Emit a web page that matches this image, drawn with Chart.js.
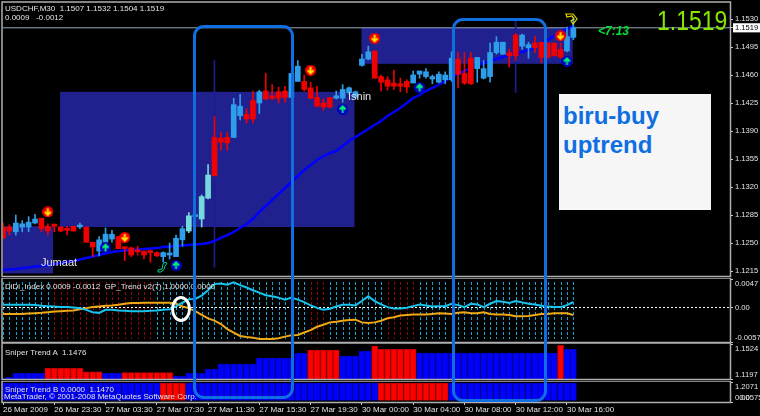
<!DOCTYPE html>
<html>
<head>
<meta charset="utf-8">
<title>USDCHF M30</title>
<script src="https://cdn.jsdelivr.net/npm/chart.js@4"></script>
<style>
  html, body { margin: 0; background: #000; overflow: hidden; }
  #wrap { position: relative; width: 760px; height: 416px; font-family: "Liberation Sans", sans-serif; }
  canvas { position: absolute; left: 0; }
  .txt { position: absolute; color: #e4e4e4; font-size: 8px; line-height: 9px; white-space: pre; }
  .frame { position: absolute; border: 3px solid #0f6fe0; border-radius: 11px; box-sizing: border-box; }
</style>
</head>
<body>
<div id="wrap">
  <canvas id="c-main" width="760" height="278" style="top:0"></canvas>
  <canvas id="c-didi" width="760" height="65" style="top:278px"></canvas>
  <canvas id="c-a" width="760" height="38" style="top:343px"></canvas>
  <canvas id="c-b" width="760" height="35" style="top:381px"></canvas>

  <div class="txt" style="left:5px;top:4px">USDCHF,M30  1.1507 1.1532 1.1504 1.1519</div>
  <div class="txt" style="left:5px;top:13px">0.0009   -0.0012</div>
  <div class="txt" style="left:5px;top:282px">DiDi_Index 0.0009 -0.0012  GP_Trend v2(7) 1.0000 0.0000</div>
  <div class="txt" style="left:5px;top:348px">Sniper Trend A  1.1476</div>
  <div class="txt" style="left:5px;top:385px">Sniper Trend B 0.0000  1.1470</div>
  <div class="txt" style="left:4px;top:392px">MetaTrader, © 2001-2008 MetaQuotes Software Corp.</div>

  <div class="txt" style="left:41px;top:256px;font-size:11px;line-height:12px">Jumaat</div>
  <div class="txt" style="left:348px;top:90px;font-size:11px;line-height:12px">Isnin</div>

  <div class="txt" id="big-price" style="left:657px;top:6px;font-size:28px;line-height:30px;color:#86e800;transform:scaleX(.82);transform-origin:left top">1.1519</div>
  <div class="txt" style="left:598px;top:25px;font-size:12px;line-height:13px;color:#00e030;font-weight:bold;font-style:italic">&lt;7:13</div>

  <div style="position:absolute;left:559px;top:94px;width:152px;height:116px;background:#f6f6f6"></div>
  <div class="txt" style="left:563px;top:101px;font-size:24px;line-height:29px;font-weight:bold;color:#0f6fe0">biru-buy
uptrend</div>

  <div class="frame" style="left:193px;top:25px;width:101px;height:374px"></div>
  <div class="frame" style="left:452px;top:18px;width:95px;height:384px"></div>
  <div style="position:absolute;left:171px;top:296px;width:20px;height:26px;border:3px solid #fff;border-radius:50%;box-sizing:border-box"></div>

  <svg style="position:absolute;left:157px;top:261px" width="12" height="12" viewBox="0 0 12 12" fill="none" stroke="#00d080" stroke-width="1">
    <path d="M1 9 L5 8 L6 3 Q8 0 10 2 L8 5 Q8 9 4 11 L1 11 Z"/>
  </svg>
  <svg style="position:absolute;left:565px;top:12px" width="14" height="14" viewBox="0 0 14 14" fill="none" stroke="#e8d800" stroke-width="1.2">
    <path d="M1 2 L8 2 L12 7 L8 12 L6 9 L9 7 L7 4 L2 5 Z"/>
  </svg>
</div>

<script>
// ── USDCHF M30 prices, one entry per bar ─────────────
const opens = [
  1.1270,1.1270,1.1264,1.1270,1.1270,1.1275,1.1281,1.1271,1.1273,1.1270,
  1.1268,1.1271,1.1270,1.1270,1.1251,1.1240,1.1251,1.1255,1.1258,1.1244,
  1.1244,1.1241,1.1240,1.1239,1.1238,1.1233,1.1235,1.1233,1.1254,1.1265,
  1.1283,1.1280,1.1306,1.1382,1.1381,1.1382,1.1382,1.1409,1.1411,1.1428,
  1.1425,1.1440,1.1434,1.1439,1.1440,1.1432,1.1452,1.1452,1.1444,1.1432,
  1.1425,1.1432,1.1431,1.1431,1.1438,1.1432,1.1472,1.1480,1.1490,1.1458,
  1.1454,1.1450,1.1449,1.1452,1.1450,1.1461,1.1458,1.1455,1.1451,1.1454,
  1.1454,1.1480,1.1462,1.1481,1.1468,1.1456,1.1458,1.1488,1.1486,1.1488,
  1.1510,1.1496,1.1494,1.1500,1.1501,1.1500,1.1500,1.1492,1.1490,1.1507];
const highs = [
  1.1275,1.1273,1.1285,1.1278,1.1283,1.1286,1.1281,1.1274,1.1274,1.1271,
  1.1271,1.1271,1.1275,1.1270,1.1251,1.1258,1.1269,1.1266,1.1258,1.1244,
  1.1245,1.1246,1.1240,1.1241,1.1239,1.1239,1.1250,1.1260,1.1271,1.1288,
  1.1285,1.1310,1.1348,1.1408,1.1388,1.1388,1.1431,1.1436,1.1418,1.1440,
  1.1441,1.1462,1.1448,1.1445,1.1446,1.1462,1.1478,1.1460,1.1451,1.1446,
  1.1430,1.1432,1.1440,1.1448,1.1445,1.1440,1.1486,1.1496,1.1490,1.1460,
  1.1458,1.1466,1.1456,1.1454,1.1465,1.1465,1.1468,1.1460,1.1464,1.1464,
  1.1489,1.1489,1.1488,1.1488,1.1482,1.1478,1.1500,1.1508,1.1501,1.1492,
  1.1512,1.1511,1.1501,1.1508,1.1501,1.1500,1.1500,1.1500,1.1520,1.1532];
const lows = [
  1.1256,1.1260,1.1260,1.1264,1.1264,1.1274,1.1264,1.1260,1.1264,1.1264,
  1.1260,1.1265,1.1268,1.1251,1.1233,1.1234,1.1251,1.1251,1.1243,1.1228,
  1.1233,1.1235,1.1230,1.1226,1.1233,1.1226,1.1230,1.1233,1.1246,1.1263,
  1.1281,1.1270,1.1305,1.1334,1.1366,1.1366,1.1382,1.1404,1.1400,1.1400,
  1.1412,1.1429,1.1429,1.1425,1.1426,1.1432,1.1452,1.1440,1.1430,1.1420,
  1.1416,1.1419,1.1430,1.1426,1.1436,1.1431,1.1471,1.1479,1.1456,1.1440,
  1.1441,1.1442,1.1439,1.1438,1.1450,1.1456,1.1456,1.1449,1.1450,1.1449,
  1.1452,1.1444,1.1448,1.1448,1.1451,1.1455,1.1451,1.1486,1.1486,1.1470,
  1.1478,1.1492,1.1481,1.1488,1.1475,1.1481,1.1484,1.1481,1.1489,1.1504];
const closes = [
  1.1256,1.1265,1.1275,1.1274,1.1276,1.1280,1.1268,1.1265,1.1271,1.1265,
  1.1266,1.1265,1.1271,1.1251,1.1245,1.1254,1.1261,1.1261,1.1243,1.1243,
  1.1235,1.1239,1.1235,1.1238,1.1234,1.1238,1.1236,1.1256,1.1268,1.1284,
  1.1284,1.1308,1.1335,1.1334,1.1376,1.1375,1.1423,1.1421,1.1405,1.1405,
  1.1439,1.1430,1.1431,1.1431,1.1432,1.1462,1.1471,1.1442,1.1431,1.1421,
  1.1420,1.1420,1.1434,1.1442,1.1444,1.1439,1.1480,1.1489,1.1456,1.1451,
  1.1446,1.1446,1.1446,1.1445,1.1460,1.1465,1.1464,1.1458,1.1461,1.1460,
  1.1481,1.1461,1.1450,1.1449,1.1482,1.1468,1.1488,1.1501,1.1501,1.1484,
  1.1484,1.1510,1.1498,1.1494,1.1482,1.1482,1.1484,1.1482,1.1508,1.1519];

// bars that show paler because of the box behind them
const paleBars = [29, 31, 32];

// moving average
const maLine = [
  1.12163,1.12169,1.12175,1.12188,1.12194,1.12206,1.12213,1.12225,1.12238,1.12250,
  1.12263,1.12275,1.12294,1.12313,1.12331,1.12350,1.12369,1.12388,1.12400,1.12406,
  1.12413,1.12419,1.12425,1.12431,1.12438,1.12450,1.12456,1.12463,1.12469,1.12475,
  1.12481,1.12488,1.12500,1.12525,1.12563,1.12600,1.12638,1.12688,1.12738,1.12800,
  1.12888,1.12963,1.13038,1.13113,1.13188,1.13263,1.13338,1.13413,1.13475,1.13538,
  1.13588,1.13625,1.13650,1.13713,1.13775,1.13825,1.13875,1.13925,1.13975,1.14025,
  1.14088,1.14138,1.14188,1.14250,1.14313,1.14350,1.14400,1.14438,1.14475,1.14525,
  1.14575,1.14613,1.14650,1.14688,1.14725,1.14750,1.14775,1.14800,1.14825,1.14850,
  1.14875,1.14888,1.14913,1.14950,1.15000,1.15038,1.15088,1.15138,1.15175,1.15213];

// the two long navy spikes
const spikeBars  = [33, 80];
const spikeHighs = [1.1478, 1.1528];
const spikeLows  = [1.1220, 1.1438];

// buy / sell arrows
const sellBars   = [7, 19, 48, 58, 87];
const sellPrices = [1.1289, 1.1257, 1.1466, 1.1506, 1.1509];
const buyBars    = [16, 27, 53, 65, 88];
const buyPrices  = [1.1244, 1.1222, 1.1417, 1.1444, 1.1477];

// Supply / demand boxes
const boxStarts  = [-1, 8.9, 55.94];
const boxEnds    = [7.8, 54.84, 88.9];
const boxTops    = [1.1271, 1.1439, 1.1519];
const boxBottoms = [1.1212, 1.1270, 1.1474];

const lastPrice = 1.1519;

// ── DiDi index pane ─────────────────────────────────
const didiFast = [
  .00045,.00045,.00045,.00045,.00045,.00039,.00028,.00022,.00017,.00006,
  .00006,0,-.00011,-.00039,-.00078,-.00089,-.00039,-.00039,-.0005,-.00056,
  -.00061,-.00061,-.00061,-.00056,-.0005,-.00039,-.00028,.00017,.00078,.00134,
  .0014,.00196,.00285,.00386,.00397,.00375,.00414,.00369,.0033,.00285,
  .00246,.00201,.00184,.00162,.00129,.00162,.00129,.00089,.00034,-.00006,
  -.00039,-.00022,.00017,.00045,.00045,.00034,.00106,.00184,.00106,.0005,
  .00006,-.00017,-.00017,-.00006,.00022,.0005,.00034,.00017,.00022,.00022,
  .00061,.00039,.00006,.00061,.0005,.00006,.00061,.00106,.00095,.00073,
  .00106,.00084,.00061,.0005,.00028,.00017,.00006,.00006,.00039,.0009];
const didiSlow = [
  -.00106,-.00106,-.00106,-.00106,-.00101,-.00095,-.00089,-.00078,-.00067,-.00061,
  -.00056,-.0005,-.00028,-.00011,.00006,.00017,.00028,.00034,.00045,.00061,
  .00073,.00073,.00078,.00078,.00078,.00078,.00078,.00061,.00017,-.00011,
  -.00061,-.00123,-.00179,-.00218,-.00274,-.00358,-.00414,-.0047,-.00486,-.00498,
  -.0052,-.0052,-.0052,-.00509,-.00481,-.00458,-.00453,-.00414,-.00375,-.00319,
  -.00285,-.00246,-.00235,-.00218,-.00207,-.00201,-.00246,-.00257,-.00246,-.00218,
  -.00179,-.00162,-.00134,-.00123,-.00117,-.00117,-.00117,-.00106,-.00095,-.00101,
  -.00106,-.00089,-.00078,-.00095,-.00095,-.00078,-.00106,-.00117,-.00117,-.00123,
  -.00145,-.00145,-.0014,-.00123,-.00106,-.00106,-.00095,-.00095,-.00095,-.00123];
const trendDownBars = [8,9,10,11,12,13,14,15,16,17,18,19,20,21,22,23,48,49,50,60,61,62,63,64];

// ── Sniper panes ────────────────────────────────────
const sniperA = [
  1.1203,1.1213,1.1250,1.1250,1.1250,1.1250,1.1250,1.1297,1.1297,1.1297,
  1.1297,1.1297,1.1297,1.1265,1.1265,1.1265,1.1250,1.1250,1.1250,1.1256,
  1.1256,1.1256,1.1256,1.1256,1.1256,1.1256,1.1256,1.1225,1.1225,1.1250,
  1.1250,1.1250,1.1290,1.1290,1.1337,1.1337,1.1337,1.1337,1.1337,1.1337,
  1.1393,1.1393,1.1393,1.1393,1.1393,1.1393,1.1436,1.1436,1.1468,1.1468,
  1.1468,1.1468,1.1468,1.1412,1.1412,1.1412,1.1458,1.1458,1.1505,1.1474,
  1.1474,1.1474,1.1474,1.1474,1.1474,1.1440,1.1440,1.1440,1.1440,1.1440,
  1.1440,1.1440,1.1440,1.1440,1.1440,1.1440,1.1440,1.1440,1.1440,1.1440,
  1.1440,1.1440,1.1440,1.1440,1.1440,1.1440,1.1440,1.1511,1.1476,1.1476];
const sniperARed = [7,8,9,10,11,12,13,14,15,19,20,21,22,23,24,25,26,48,49,50,51,52,58,59,60,61,62,63,64,87];
const sniperB = [
  1.147,1.147,1.147,1.147,1.147,1.147,1.147,1.147,1.147,1.147,
  1.147,1.147,1.147,1.147,1.147,1.147,1.147,1.147,1.147,1.147,
  1.147,1.147,1.147,1.147,1.147,1.147,1.147,1.147,1.147,1.147,
  1.147,1.147,1.147,1.147,1.147,1.147,1.147,1.147,1.147,1.147,
  1.147,1.147,1.147,1.147,1.147,1.147,1.147,1.147,1.147,1.147,
  1.147,1.147,1.147,1.147,1.147,1.147,1.147,1.147,1.147,1.147,
  1.147,1.147,1.147,1.147,1.147,1.147,1.147,1.147,1.147,1.147,
  1.147,1.147,1.147,1.147,1.147,1.147,1.147,1.147,1.147,1.147,
  1.147,1.147,1.147,1.147,1.147,1.147,1.147,1.147,1.147,1.147];
const sniperBRed = [25,26,27,28,59,60,61,62,63,64,65,66,67,68,69];

// ── Axis ticks ──────────────────────────────────────
const priceTicks  = [1.1530, 1.1519, 1.1495, 1.1460, 1.1425, 1.1390, 1.1355, 1.1320, 1.1285, 1.1250, 1.1215];
const timeTickBars = [0, 8, 16, 24, 32, 40, 48, 56, 64, 72, 80, 88];
const timeLabels  = ['26 Mar 2009', '26 Mar 23:30', '27 Mar 03:30', '27 Mar 07:30', '27 Mar 11:30', '27 Mar 15:30',
                     '27 Mar 19:30', '30 Mar 00:00', '30 Mar 04:00', '30 Mar 08:00', '30 Mar 12:00', '30 Mar 16:00'];

const LAST_X = 113.44;  // right edge of the plot, in bars

// ── Helpers ─────────────────────────────────────────
const barIdx = closes.map((_, i) => i);

function candleColor(i) {
  if (paleBars.includes(i)) return '#74d8dc';
  return closes[i] >= opens[i] ? '#2e9eea' : '#f00000';
}

function arrowIcon(bg, fg, up) {
  const c = document.createElement('canvas');
  c.width = c.height = 11;
  const g = c.getContext('2d');
  g.fillStyle = bg;
  g.beginPath(); g.arc(5.5, 5.5, 5.5, 0, Math.PI * 2); g.fill();
  g.strokeStyle = fg;
  g.lineWidth = 2;
  g.beginPath();
  if (up) {
    g.moveTo(5.5, 9); g.lineTo(5.5, 2.5); g.moveTo(2.5, 5.5); g.lineTo(5.5, 2.5); g.lineTo(8.5, 5.5);
  } else {
    g.moveTo(5.5, 2); g.lineTo(5.5, 8.5); g.moveTo(2.5, 5.5); g.lineTo(5.5, 8.5); g.lineTo(8.5, 5.5);
  }
  g.stroke();
  return c;
}

// grey pane border
const frameLine = {
  id: 'frameLine',
  afterDraw(chart) {
    const a = chart.chartArea, ctx = chart.ctx;
    ctx.save();
    ctx.strokeStyle = '#b0b0b0';
    ctx.lineWidth = 1.5;
    ctx.strokeRect(a.left - 1, a.top - 1, a.right - a.left + 1.5, a.bottom - a.top + 1.5);
    ctx.restore();
  },
};

const priceBoxes = {
  id: 'priceBoxes',
  beforeDatasetsDraw(chart) {
    const { x, y } = chart.scales, ctx = chart.ctx;
    ctx.save();
    ctx.beginPath();
    ctx.rect(chart.chartArea.left, chart.chartArea.top, chart.chartArea.width, chart.chartArea.height);
    ctx.clip();
    ctx.fillStyle = '#20208f';
    boxStarts.forEach((s, i) => {
      const l = x.getPixelForValue(s), r = x.getPixelForValue(boxEnds[i]);
      const t = y.getPixelForValue(boxTops[i]), b = y.getPixelForValue(boxBottoms[i]);
      ctx.fillRect(l, t, r - l, b - t);
    });
    ctx.restore();
  },
};

// dashed columns behind the DiDi lines
const trendColumns = {
  id: 'trendColumns',
  beforeDatasetsDraw(chart) {
    const { x, y } = chart.scales, ctx = chart.ctx;
    ctx.save();
    ctx.lineWidth = 1;
    ctx.setLineDash([3, 2]);
    barIdx.forEach(i => {
      const px = Math.round(x.getPixelForValue(i)) + 0.5;
      ctx.strokeStyle = trendDownBars.includes(i) ? '#8c0808' : '#14a4d4';
      ctx.beginPath();
      ctx.moveTo(px, y.getPixelForValue(0.0042));
      ctx.lineTo(px, y.getPixelForValue(-0.0052));
      ctx.stroke();
    });
    ctx.restore();
  },
};

// labels may hang over the plot edges, the plot itself must not shrink for them
function noOverhang(s) {
  s.paddingLeft = s.paddingRight = s.paddingTop = s.paddingBottom = 0;
}

function xScale(show) {
  return {
    type: 'linear',
    display: show,
    offset: false,
    min: 0,
    max: LAST_X,
    afterBuildTicks: s => { s.ticks = timeTickBars.map(v => ({ value: v })); },
    afterFit: s => { noOverhang(s); if (show) s.height = 14; },
    grid: { offset: false, drawOnChartArea: false, tickLength: 3, tickColor: '#c8c8c8' },
    border: { display: false },
    ticks: {
      autoSkip: false, maxRotation: 0, align: 'start', padding: 0,
      color: '#e4e4e4', font: { family: 'Liberation Sans', size: 8 },
      callback: v => timeLabels[timeTickBars.indexOf(v)],
    },
  };
}

function yScale(min, max, values, labels, extra = {}) {
  return {
    position: 'right',
    min, max,
    afterBuildTicks: s => { s.ticks = values.map(v => ({ value: v })); },
    afterFit: s => { noOverhang(s); s.width = 30; },
    grid: { drawOnChartArea: false, tickLength: 3, tickColor: '#c8c8c8' },
    border: { display: false },
    ticks: {
      autoSkip: false, padding: 2,
      color: '#e4e4e4', font: { family: 'Liberation Sans', size: 7.6 },
      callback: (v, i) => labels[i],
      ...extra,
    },
  };
}

function makePane(id, datasets, yOpts, padding, showX, plugins) {
  return new Chart(document.getElementById(id), {
    type: 'bar',
    data: { datasets },
    plugins: [...plugins, frameLine],
    options: {
      responsive: false,
      animation: false,
      devicePixelRatio: 1,
      layout: { autoPadding: false, padding: { left: 3, right: 0, ...padding } },
      plugins: { legend: { display: false }, tooltip: { enabled: false } },
      scales: { x: xScale(showX), y: yOpts },
    },
  });
}

// ── Main price pane ─────────────────────────────────
makePane('c-main', [
  {
    type: 'line', order: 0, showLine: false,
    data: sellBars.map((b, i) => ({ x: b, y: sellPrices[i] })),
    pointStyle: arrowIcon('#f00000', '#ffe000', false),
  },
  {
    type: 'line', order: 0, showLine: false,
    data: buyBars.map((b, i) => ({ x: b, y: buyPrices[i] })),
    pointStyle: arrowIcon('#0000c8', '#00f070', true),
  },
  {
    order: 1, grouped: false, barThickness: 5, minBarLength: 2,
    data: barIdx.map(i => ({ x: i, y: [opens[i], closes[i]] })),
    backgroundColor: barIdx.map(candleColor),
  },
  {
    order: 2, grouped: false, barThickness: 1,
    data: barIdx.map(i => ({ x: i, y: [lows[i], highs[i]] })),
    backgroundColor: barIdx.map(candleColor),
  },
  {
    type: 'line', order: 3, borderColor: '#0000ff', borderWidth: 2.5, pointRadius: 0, tension: 0,
    data: barIdx.map(i => ({ x: i, y: maLine[i] })),
  },
  {
    order: 4, grouped: false, barThickness: 1, backgroundColor: '#1c1c90',
    data: spikeBars.map((b, i) => ({ x: b, y: [spikeLows[i], spikeHighs[i]] })),
  },
  {
    type: 'line', order: 5, borderColor: '#93a7b4', borderWidth: 1, pointRadius: 0,
    data: [{ x: 0, y: lastPrice }, { x: LAST_X, y: lastPrice }],
  },
], yScale(1.12088, 1.1550, priceTicks, priceTicks.map(v => v.toFixed(4)), {
  color: c => (c.tick.value === lastPrice ? '#000' : '#e4e4e4'),
  showLabelBackdrop: c => c.tick.value === lastPrice,
  backdropColor: '#fff',
  backdropPadding: { top: 0, bottom: 0, left: 2, right: 2 },
}), { top: 3, bottom: 2 }, false, [priceBoxes]);

// ── DiDi pane ───────────────────────────────────────
makePane('c-didi', [
  {
    type: 'line', order: 0, borderColor: '#18c4ee', borderWidth: 2, pointRadius: 0, tension: 0,
    data: barIdx.map(i => ({ x: i, y: didiFast[i] })),
  },
  {
    type: 'line', order: 1, borderColor: '#f0a814', borderWidth: 2, pointRadius: 0, tension: 0,
    data: barIdx.map(i => ({ x: i, y: didiSlow[i] })),
  },
  {
    type: 'line', order: 2, borderColor: '#fff', borderWidth: 1, borderDash: [2, 2], pointRadius: 0,
    data: [{ x: 0, y: 0 }, { x: LAST_X, y: 0 }],
  },
], yScale(-0.0057, 0.0047, [0.0047, 0, -0.0057], [['', '0.0047'], '0.00', ['-0.0057', '']]),
  { top: 1, bottom: 1 }, false, [trendColumns]);

// ── Sniper Trend A ──────────────────────────────────
makePane('c-a', [{
  grouped: false, barThickness: 6, borderWidth: 1,
  data: barIdx.map(i => ({ x: i, y: sniperA[i] })),
  backgroundColor: barIdx.map(i => (sniperARed.includes(i) ? '#ff0000' : '#0000ff')),
  borderColor: barIdx.map(i => (sniperARed.includes(i) ? '#c00000' : '#0000c0')),
}], yScale(1.1197, 1.1524, [1.1524, 1.1197], [['', '1.1524'], ['1.1197', '']]),
  { top: 1, bottom: 2 }, false, []);

// ── Sniper Trend B + time axis ──────────────────────
makePane('c-b', [{
  grouped: false, barThickness: 6, borderWidth: 1, base: 0.15,
  data: barIdx.map(i => ({ x: i, y: sniperB[i] })),
  backgroundColor: barIdx.map(i => (sniperBRed.includes(i) ? '#ff0000' : '#0000ff')),
  borderColor: barIdx.map(i => (sniperBRed.includes(i) ? '#c00000' : '#0000c0')),
}], yScale(0.0575, 1.2071, [1.2071, 0.0575, 0.0574], [['', '1.2071'], ['  0.0575', ''], ['0.00', '']]),
  { top: 1, bottom: 0 }, true, []);
</script>
</body>
</html>
